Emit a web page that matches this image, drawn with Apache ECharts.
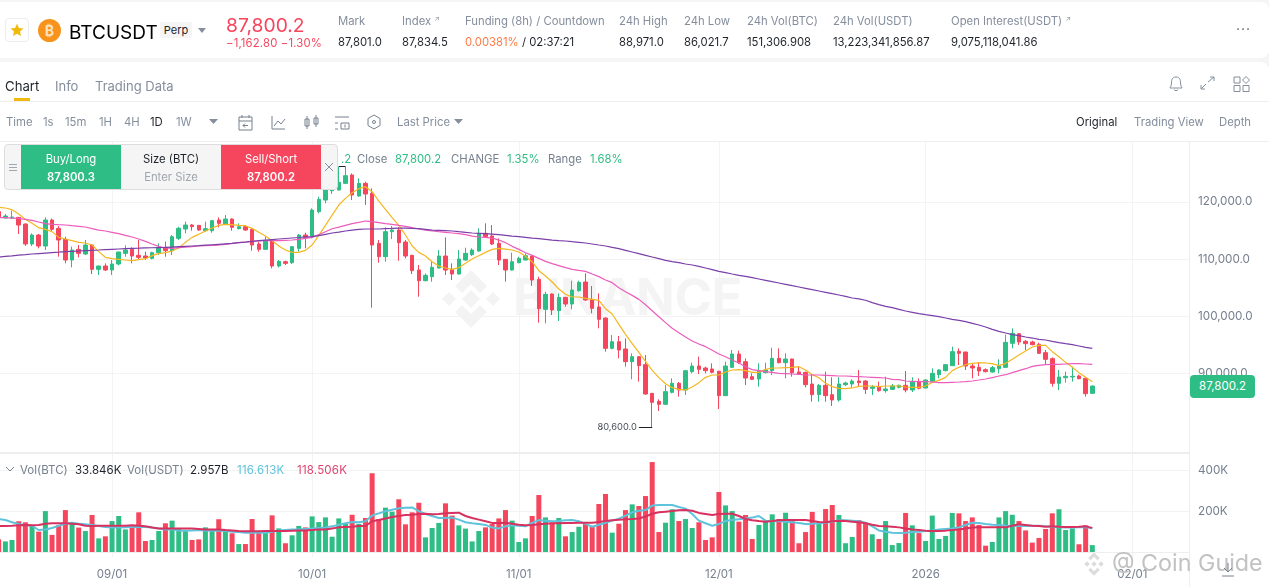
<!DOCTYPE html>
<html><head><meta charset="utf-8">
<script src="https://cdn.jsdelivr.net/npm/echarts@6/dist/echarts.min.js"></script>
<style>
html,body{margin:0;padding:0;width:1269px;height:587px;overflow:hidden;background:#f5f5f5;font-family:Inter,"Noto Sans",sans-serif;color:#1e2329}
.abs,.t{position:absolute;white-space:nowrap}
.t{line-height:14px;font-size:11.3px}
.g{color:#848e9c}.k{color:#1e2329}.gr{color:#2ebd85}.r{color:#f6465d}
.ar{font-size:7px;vertical-align:4px;line-height:0}
#c{position:absolute;left:-5px;top:0;width:1274px;height:587px}
</style></head><body>
<div class="abs" style="left:0;top:2px;width:1269px;height:56px;background:#fff;border-radius:0 8px 8px 0"></div>
<div class="abs" style="left:0;top:62px;width:1269px;height:525px;background:#fff;border-radius:0 8px 0 0"></div>
<div class="abs" style="left:0;top:101px;width:1269px;height:1px;background:#eee"></div>
<div class="abs" style="left:0;top:141px;width:1269px;height:1px;background:#eee"></div>
<!-- watermark -->
<svg class="abs" style="left:440px;top:268px" width="62" height="62" viewBox="0 0 62 62"><g fill="#f3f3f3"><path d="M31 2 47 18 40 25 31 16 22 25 15 18Z"/><path d="M31 60 47 44 40 37 31 46 22 37 15 44Z"/><path d="M2 31 9 24 16 31 9 38Z"/><path d="M60 31 53 24 46 31 53 38Z"/><path d="M31 22 40 31 31 40 22 31Z"/></g></svg>
<div class="abs" style="left:513px;top:267px;font:700 51px/60px Inter,sans-serif;color:#f4f4f4;letter-spacing:-.5px">BINANCE</div>
<div id="c"></div>
<div class="abs" style="left:1189px;top:142px;width:1px;height:445px;background:#eee"></div>
<!-- header -->
<div class="abs" style="left:5px;top:18px;width:24px;height:24px;border:1px solid #eaecef;border-radius:4px;box-sizing:border-box"></div>
<svg class="abs" style="left:10px;top:23px" width="14" height="14" viewBox="0 0 14 14"><path d="M7 .8 8.9 5 13.5 5.500 10 8.500 11 13 7 10.700 3 13 4 8.500 .5 5.500 5.100 5Z" fill="#f0b90b"/></svg>
<svg class="abs" style="left:38px;top:19px" width="23" height="23" viewBox="0 0 23 23"><circle cx="11.500" cy="11.500" r="11.500" fill="#f7931a"/><text x="11.500" y="16.500" text-anchor="middle" font-size="14" font-weight="700" fill="#fde3bd" font-family="Inter">₿</text></svg>
<div class="t" style="left:69px;top:21px;font-size:19px;line-height:23px;color:#000">BTCUSDT</div>
<div class="t k" style="left:160px;top:22px;width:32px;height:16px;text-align:center;background:#f5f5f5;border-radius:2px;line-height:16px;font-size:11px">Perp</div>
<svg class="abs" style="left:198px;top:28px" width="8" height="5"><path d="M0 0H8L4 5Z" fill="#848e9c"/></svg>
<div class="t r" style="left:226px;top:13px;font-size:19.3px;line-height:24px">87,800.2</div>
<div class="t r" style="left:226px;top:36px;letter-spacing:.17px">−1,162.80 −1.30%</div>
<div class="t g" style="left:338px;top:14px">Mark</div><div class="t k" style="left:338px;top:35px">87,801.0</div>
<div class="t g" style="left:402px;top:14px">Index <span class="ar">↗</span></div><div class="t k" style="left:402px;top:35px">87,834.5</div>
<div class="t g" style="left:465px;top:14px">Funding (8h) / Countdown</div>
<div class="t k" style="left:465px;top:35px"><span style="color:#ff7a45">0.00381%</span> / 02:37:21</div>
<div class="t g" style="left:619px;top:14px">24h High</div><div class="t k" style="left:619px;top:35px">88,971.0</div>
<div class="t g" style="left:684px;top:14px">24h Low</div><div class="t k" style="left:684px;top:35px">86,021.7</div>
<div class="t g" style="left:747px;top:14px">24h Vol(BTC)</div><div class="t k" style="left:747px;top:35px">151,306.908</div>
<div class="t g" style="left:833px;top:14px">24h Vol(USDT)</div><div class="t k" style="left:833px;top:35px">13,223,341,856.87</div>
<div class="t g" style="left:951px;top:14px">Open Interest(USDT) <span class="ar">↗</span></div><div class="t k" style="left:951px;top:35px">9,075,118,041.86</div>
<div class="t" style="left:1236px;top:22px;font-size:14px;letter-spacing:1px;color:#5e6673">···</div>
<!-- tabs -->
<div class="t k" style="left:5px;top:78px;font-size:13.2px;line-height:16px">Chart</div>
<div class="t g" style="left:55px;top:78px;font-size:13px;line-height:16px">Info</div>
<div class="t g" style="left:95px;top:78px;font-size:13px;line-height:16px">Trading Data</div>
<div class="abs" style="left:14px;top:98px;width:16px;height:3px;background:#f0b90b"></div>
<svg class="abs" style="left:1168px;top:74px" width="90" height="20" fill="none" stroke="#848e9c" stroke-width="1"><path d="M8 3C4 3 3.500 6 3.500 9S2 13 2 14H14C14 13 12.500 12 12.500 9S12 3 8 3ZM6 15.500C7 17 9 17 10 15.500"/><path d="M33 15 38 10M40 8 46 3M42 3H46V7M33 11V15H37"/><path d="M66 3H72V9H66ZM78 2.500 81.500 6 78 9.500 74.500 6ZM66 11.500H72V17.500H66ZM75 11.500H81V17.500H75Z"/></svg>
<!-- toolbar -->
<div class="t g" style="left:6px;top:115px">Time</div><div class="t g" style="left:43px;top:115px">1s</div>
<div class="t g" style="left:65px;top:115px">15m</div><div class="t g" style="left:99px;top:115px">1H</div>
<div class="t g" style="left:124px;top:115px">4H</div><div class="t k" style="left:150px;top:115px">1D</div>
<div class="t g" style="left:176px;top:115px">1W</div>
<svg class="abs" style="left:209px;top:119px" width="9" height="6"><path d="M0 0H9L4.500 5Z" fill="#848e9c"/></svg>
<svg class="abs" style="left:237px;top:113px" width="145" height="20" fill="none" stroke="#76808f" stroke-width="1"><path d="M2 4H15V17H2ZM2 8H15M5 2V5M12 2V5M11 12.500H6L8 10.500M6 12.500 8 14.500"/><path d="M35 3V16H48M37 13 41 8 44 11 48 6"/><path d="M68 6H72V13H68ZM70 3V16M77 5H81V11H77ZM79 2V14"/><path d="M98 4H112M98 10H101M98 16H101M104 10H112V16H104ZM108 11.500V14.500"/><path d="M137 2 143 5.500V12.500L137 16 131 12.500V5.500Z"/><circle cx="137" cy="9" r="1.500"/></svg>
<div class="t g" style="left:397px;top:115px">Last Price</div>
<svg class="abs" style="left:454px;top:119px" width="9" height="6"><path d="M0 0H9L4.500 5Z" fill="#848e9c"/></svg>
<div class="t k" style="left:1076px;top:115px">Original</div>
<div class="t g" style="left:1134px;top:115px">Trading View</div>
<div class="t g" style="left:1219px;top:115px">Depth</div>
<!-- legend -->
<div class="t gr" style="left:341px;top:152px">.2</div>
<div class="t" style="left:357px;top:152px;color:#76808f">Close</div>
<div class="t gr" style="left:395px;top:152px">87,800.2</div>
<div class="t" style="left:451px;top:152px;color:#76808f">CHANGE</div>
<div class="t gr" style="left:507px;top:152px">1.35%</div>
<div class="t" style="left:548px;top:152px;color:#76808f">Range</div>
<div class="t gr" style="left:590px;top:152px">1.68%</div>
<!-- order panel -->
<div class="abs" style="left:4px;top:144px;width:334px;height:46px;background:#f5f5f5;border:1px solid #ddd;border-radius:4px;box-sizing:border-box"></div>
<svg class="abs" style="left:9px;top:163px" width="9" height="10" stroke="#a0a6ad"><path d="M0 1.500H8M0 4.500H8M0 7.500H8"/></svg>
<div class="abs" style="left:21px;top:145px;width:100px;height:44px;background:#2ebd85"></div>
<div class="abs" style="left:221px;top:145px;width:100px;height:44px;background:#f6465d"></div>
<div class="t" style="left:21px;width:100px;text-align:center;top:152px;color:#fff">Buy/Long</div>
<div class="t" style="left:21px;width:100px;text-align:center;top:170px;color:#fff;font-weight:600">87,800.3</div>
<div class="t k" style="left:121px;width:100px;text-align:center;top:152px">Size (BTC)</div>
<div class="t" style="left:121px;width:100px;text-align:center;top:170px;color:#a0a6ad">Enter Size</div>
<div class="t" style="left:221px;width:100px;text-align:center;top:152px;color:#fff">Sell/Short</div>
<div class="t" style="left:221px;width:100px;text-align:center;top:170px;color:#fff;font-weight:600">87,800.2</div>
<svg class="abs" style="left:324px;top:162px" width="10" height="10" stroke="#848e9c"><path d="M1 1 9 9M9 1 1 9"/></svg>
<!-- price tag -->
<div class="abs" style="left:1190px;top:375px;width:65px;height:23px;border-radius:4px;background:#2ebd85;color:#fff;font-size:11.5px;line-height:23px;text-align:center">87,800.2</div>
<!-- vol legend -->
<svg class="abs" style="left:5px;top:466px" width="10" height="7" fill="none" stroke="#76808f"><path d="M1 1 5 5 9 1"/></svg>
<div class="t" style="left:20px;top:463px;color:#76808f;font-size:11.5px">Vol(BTC)</div>
<div class="t k" style="left:75px;top:463px;font-size:11.5px">33.846K</div>
<div class="t" style="left:127px;top:463px;color:#76808f;font-size:11.5px">Vol(USDT)</div>
<div class="t k" style="left:190px;top:463px;font-size:11.5px">2.957B</div>
<div class="t" style="left:237px;top:463px;color:#5fc3dc;font-size:11.5px;letter-spacing:.2px">116.613K</div>
<div class="t" style="left:297px;top:463px;color:#e0436f;font-size:11.5px;letter-spacing:.2px">118.506K</div>
<!-- bottom right overlay -->
<svg class="abs" style="left:1080px;top:550px" width="28" height="28" viewBox="0 0 28 28" fill="#dcdcdc" stroke="#fff" stroke-width=".6"><path d="M14 2 20 8 17.500 10.500 14 7 10.500 10.500 8 8Z"/><path d="M14 26 20 20 17.500 17.500 14 21 10.500 17.500 8 20Z"/><path d="M4 14 7 11 10 14 7 17Z"/><path d="M24 14 21 11 18 14 21 17Z"/><path d="M14 11 17 14 14 17 11 14Z"/></svg>
<div class="t" style="left:1112px;top:549px;font-size:23.3px;line-height:28px;color:#c2c2c2">@ Coin Guide</div>
<svg class="abs" style="left:1221px;top:562px" width="14" height="16" fill="none" stroke="#76808f"><path d="M7 1V9M3 6 7 10 11 6M1 14H13"/></svg>

<script>
const categories = ['08/15','08/16','08/17','08/18','08/19','08/20','08/21','08/22','08/23','08/24','08/25','08/26','08/27','08/28','08/29','08/30','08/31',
'09/01','09/02','09/03','09/04','09/05','09/06','09/07','09/08','09/09','09/10','09/11','09/12','09/13','09/14','09/15','09/16','09/17','09/18','09/19','09/20','09/21','09/22','09/23','09/24','09/25','09/26','09/27','09/28','09/29','09/30',
'10/01','10/02','10/03','10/04','10/05','10/06','10/07','10/08','10/09','10/10','10/11','10/12','10/13','10/14','10/15','10/16','10/17','10/18','10/19','10/20','10/21','10/22','10/23','10/24','10/25','10/26','10/27','10/28','10/29','10/30','10/31',
'11/01','11/02','11/03','11/04','11/05','11/06','11/07','11/08','11/09','11/10','11/11','11/12','11/13','11/14','11/15','11/16','11/17','11/18','11/19','11/20','11/21','11/22','11/23','11/24','11/25','11/26','11/27','11/28','11/29','11/30',
'12/01','12/02','12/03','12/04','12/05','12/06','12/07','12/08','12/09','12/10','12/11','12/12','12/13','12/14','12/15','12/16','12/17','12/18','12/19','12/20','12/21','12/22','12/23','12/24','12/25','12/26','12/27','12/28','12/29','12/30','12/31',
'01/01','01/02','01/03','01/04','01/05','01/06','01/07','01/08','01/09','01/10','01/11','01/12','01/13','01/14','01/15','01/16','01/17','01/18','01/19','01/20','01/21','01/22','01/23','01/24','01/25','01/26','01/27','01/28','01/29','01/30','01/31',
'02/01','02/02','02/03','02/04','02/05','02/06','02/07','02/08','02/09'];
const xTickLabels = {'09/01':'09/01','10/01':'10/01','11/01':'11/01','12/01':'12/01','01/01':'2026','02/01':'02/01'};
const priceTicks = [90000,100000,110000,120000];
const volumeTicks = [200,400];
// [open, close, low, high]
const ohlc = [
[118300,117400,116800,119300],[117182,117531,117124,117881],[117182,117357,117124,118464],[117298,115958,114385,117357],[116133,112637,112300,116250],
[112637,114210,112287,114500],[114210,112287,111880,114400],[112287,116832,111588,117298],[116832,115200,114793,117100],[115375,113336,110422,115784],
[113452,109840,109257,113918],[109840,111588,108558,112170],[111705,111005,110306,112462],[110888,112462,110714,113336],[112462,108208,107392,112600],
[108208,108791,107218,108850],[108791,108092,107917,109257],[108092,109140,107218,109840],[109140,111238,108907,111300],[111005,111588,110422,112404],
[111705,110539,109257,112054],[110655,110306,109957,113336],[110539,110190,109840,111297],[110131,111122,109957,111297],[111122,112054,110714,112753],
[112054,111471,110422,113044],[111471,113918,110714,114210],[113627,115375,113336,115666],[115259,115958,114500,116541],[115958,115666,114967,116133],
[115900,115083,114967,115958],[114967,115317,114793,116541],[114967,116715,114618,116832],[116832,116250,115550,117298],[116133,117007,115958,117706],
[117007,115550,114967,117124],[115317,115666,115200,116250],[115666,115083,114967,115958],[115200,112462,111471,115375],[112637,111705,111297,113044],
[111705,113219,111650,113918],[113219,108791,108383,113452],[108791,109606,108558,109840],[109548,109257,108966,109723],[109373,112170,109140,112287],
[111880,114210,111297,114385],[114210,113802,111880,114618],[114035,118580,113627,118871],[118288,120444,117997,120910],[120328,122076,119745,122658],
[121950,122350,121400,122900],[122076,123416,122000,126155],[123241,124581,123100,126200],[124698,121202,120328,124989],[121027,123241,120910,124115],
[123241,121376,119453,123532],[121493,112461,101506,122367],[112752,110422,109373,113335],[110422,114792,109548,115549],[114792,115083,113510,115782],
[115083,112869,109722,115549],[112985,110538,110130,113335],[110655,107974,107392,110770],[108091,106226,103429,108965],[106226,107158,106110,107508],
[106926,108557,106051,109548],[108440,110538,108382,111587],[110538,108091,107217,113801],[108208,107392,106343,109256],[107392,110014,107300,111587],
[109839,111004,109722,111995],[110772,111587,110538,111878],[111412,114500,111296,115374],[114500,113918,113801,116249],[114034,112636,112461,115957],
[112753,109839,108965,113626],[109955,108091,106051,110000],[108091,109548,108000,111121],[109373,110130,109256,110422],[109839,110596,109800,111004],
[110538,106343,105294,110655],[106459,101332,98884,106925],[101215,103836,98768,104303],[103895,101098,100224,104000],[100982,103313,99175,104012],
[103313,102147,101680,103400],[102147,104595,101215,106226],[104479,105935,104303,106226],[105994,102848,102700,107509],[102964,101391,100517,105295],
[101624,99468,97895,104013],[99701,94398,93816,99800],[94398,95564,94224,96729],[95564,94107,92650,96554],[94282,92068,91194,96147],
[92068,92942,88979,93524],[92942,91368,88571,93058],[91543,86416,86241,93233],[86532,84958,80600,86600],[85133,84609,83444,85483],
[84609,86823,84492,87989],[86707,88280,86532,89154],[88280,87115,85949,88513],[87115,90494,86241,90550],[90320,91310,90028,91893],
[91310,90727,89912,92941],[90960,90494,90028,91194],[90786,90204,90028,91777],[90378,86124,83793,90494],[86124,91310,86066,92068],
[91077,93408,91000,94107],[93408,91951,91660,93991],[92068,89212,87989,92650],[89446,88980,88863,90028],[89038,90494,87697,91776],
[90145,90611,90028,91893],[90494,92650,89737,94515],[92650,91893,91776,94398],[91893,92534,89154,93524],[92534,90145,89446,92600],
[90262,89912,89737,91194],[90204,88047,87581,90320],[88164,86299,85075,89912],[86299,87931,85075,88164],[87931,86124,85075,90320],
[86299,85367,84318,89329],[85367,88164,85075,89329],[88047,88338,87814,88571],[88164,88688,87522,88979],[88688,88397,87814,90611],
[88688,87232,86416,88863],[87406,87639,86241,87989],[87639,87000,86824,88572],[87000,87290,86649,89446],[87232,87815,87115,88164],
[87582,87931,87407,88048],[87931,87115,86707,90436],[87115,88513,86766,89329],[88513,87407,87232,89155],[87465,88863,87407,88980],
[88630,90029,88572,90903],[89795,90612,89155,90728],[90495,91544,90378,91660],[91369,93816,91311,94690],[93874,93525,91485,94399],
[93758,91311,90611,93800],[91311,90961,89155,91777],[91078,90437,89563,92010],[90670,90320,90204,90903],[90262,91019,90145,91311],
[90845,91311,90029,92476],[91078,95448,90961,96788],[95273,97021,94399,97895],[96963,95506,94982,97079],[95623,95215,94107,95856],
[95506,95040,94923,95739],[95098,93525,93408,95389],[93642,92476,91660,94107],[92593,88281,87698,92826],[88281,89388,87115,90611],
[89271,89504,88397,90320],[89388,89504,88572,91194],[89563,89096,88980,89795],[89155,86474,85950,89329],[86532,87800.2,86416,87931]];
const ma7 = [119046,118930,118640,117880,116950,116250,115490,115200,114800,113800,113510,113220,112930,112810,112460,111300,110310,110070,109960,109840,
109720,109900,110070,110600,110950,111120,111410,111940,112930,113800,114330,114910,115430,115900,116070,116020,115900,115840,115370,114680,
114030,113220,112290,111590,111180,111180,111530,112460,114150,115900,117700,119450,120620,121610,122310,122660,121780,120150,118700,117240,
115900,114210,112290,111180,110540,109550,108790,108440,108210,108500,109260,110010,110600,111180,111700,111880,111760,111590,111240,110480,
109550,107970,107040,105990,104770,103840,103370,103370,103140,102960,102790,101330,100400,98590,96850,95210,93700,92130,90550,89270,
88220,87520,87230,87110,87640,88400,89330,89740,89740,90260,90610,90670,90490,90200,90200,90730,90960,90960,91020,91080,
91190,90610,89800,89270,88280,87700,87410,87350,87470,87760,87810,87810,87700,87810,87810,87815,87640,87580,87580,87810,
88450,88800,89330,90500,91080,91540,91780,91840,91840,91720,91370,91780,92480,93230,93930,94630,94920,94920,93820,92940,
91950,91080,90150,89330,88570];
const ma25 = [117240,117240,117180,117120,116950,116770,116480,116190,116070,116010,115960,115840,115730,115610,115320,115080,114910,114680,114440,114150,
113860,113510,113100,112640,112230,111940,111880,112000,112110,112170,112290,112350,112400,112460,112580,112750,112870,112990,113100,113160,
113220,113220,113220,113280,113340,113450,113630,113800,114270,114790,115310,115600,115900,116190,116420,116660,116540,116370,116190,116080,
115900,115730,115490,115260,115080,114910,114790,114680,114560,114440,114270,114030,113860,113800,113680,113330,112870,112230,111700,111120,
110650,110130,109610,109200,108850,108500,108210,108030,107860,107390,106930,106340,105880,105000,104300,103660,102960,102030,100980,99930,
98890,97900,97140,96380,95680,95160,94690,94050,93410,92940,92360,91830,91190,90670,90490,90320,90200,90030,89970,89910,
89850,89740,89740,89740,89680,89620,89560,89560,89500,89450,89390,89330,89270,89210,88980,88920,88690,88630,88570,88570,
88510,88400,88400,88460,88510,88570,88690,88860,89040,89270,89560,89790,90150,90500,90840,91250,91430,91540,91600,91600,
91660,91720,91720,91660,91600];
const ma99 = [110360,110470,110570,110680,110780,110890,110970,111050,111130,111210,111300,111360,111420,111480,111540,111590,111650,111710,111770,111830,
111880,111910,111950,111980,112020,112050,112110,112170,112230,112290,112350,112430,112510,112590,112670,112750,112870,112980,113100,113220,
113330,113420,113510,113600,113690,113780,113880,113920,114090,114330,114560,114730,114910,115080,115200,115260,115260,115260,115320,115370,
115430,115430,115370,115320,115200,115080,115030,114970,114910,114790,114680,114560,114500,114440,114380,114270,114150,114030,113920,113800,
113680,113570,113450,113330,113220,113160,113040,112930,112810,112640,112460,112290,112050,111820,111530,111240,110950,110660,110370,110080,
109780,109550,109370,109140,108970,108730,108440,108150,107860,107630,107390,107160,106980,106750,106520,106290,106050,105820,105590,105350,
105120,104890,104650,104420,104190,103950,103720,103490,103200,103050,102800,102380,102030,101740,101510,101220,100920,100690,100460,100280,
100110,99930,99700,99470,99290,99060,98770,98480,98130,97720,97370,97080,96790,96610,96380,96200,95970,95860,95620,95390,
95210,95040,94810,94570,94400];
const volume = [62,52,59,151,146,128,100,201,84,133,206,144,120,103,182,67,77,152,177,111,
121,195,54,59,103,141,154,115,103,59,62,121,111,161,103,92,39,39,162,100,
108,180,116,43,82,128,121,175,147,170,75,165,138,183,138,167,387,162,218,198,
259,136,195,242,72,118,143,239,179,131,115,52,103,121,138,165,206,154,49,67,
177,280,170,144,167,77,98,124,138,128,236,285,95,139,206,234,226,275,442,98,
144,210,152,162,118,146,59,72,295,229,201,149,182,64,133,152,185,162,193,154,
43,98,197,144,211,231,182,43,74,157,144,87,64,152,34,44,192,131,93,54,
179,64,79,192,190,152,170,133,31,49,170,201,183,152,106,46,69,113,190,210,
108,116,38,131,33.846];
const volMaBlue = [162,157,146,138,133,129,108,111,118,129,139,144,139,136,133,128,123,120,120,121,
123,124,123,120,115,111,110,106,105,106,108,106,105,105,103,100,98,95,95,95,
95,100,106,108,110,111,113,115,118,121,126,134,141,147,146,151,179,190,200,208,
215,218,219,201,187,177,167,167,169,159,146,141,138,133,120,116,126,131,129,126,
143,157,154,151,152,156,157,151,138,124,134,144,154,164,179,195,203,206,228,231,
231,231,221,213,187,154,141,129,138,152,157,161,165,169,177,154,151,151,149,146,
143,138,139,141,144,149,156,156,154,151,144,126,106,100,95,93,95,98,100,103,
106,110,113,116,121,133,144,143,138,134,133,129,128,128,128,129,129,126,124,121,
120,120,121,121,116.613];
const volMaRed = [128,128,129,131,133,131,133,139,141,141,141,139,136,129,128,129,129,129,129,129,
131,129,126,120,115,115,116,115,115,115,113,111,111,111,108,106,103,102,102,102,
103,103,103,103,105,106,106,108,110,111,116,121,123,124,128,128,151,157,165,172,
177,182,183,187,188,185,187,190,192,193,177,167,159,151,143,143,144,139,134,131,
133,136,139,141,141,143,143,144,144,144,147,152,156,159,161,162,165,174,188,195,
198,201,205,206,203,192,187,182,187,188,188,177,162,156,152,149,152,156,157,157,
157,157,152,147,146,151,154,152,149,146,141,134,128,126,124,121,116,111,108,105,
103,103,105,108,111,115,120,121,121,121,121,121,129,136,133,129,128,124,126,124,
123,123,124,126,118.506];

const UP='#2ebd85', DOWN='#f6465d', GRID='#f3f3f3', LABEL='#76808f';
const hasTick = (i,v)=>xTickLabels[v]!==undefined;
const fmtPrice = v=>Number(v).toLocaleString('en-US',{minimumFractionDigits:1,maximumFractionDigits:1});
const chart = echarts.init(document.getElementById('c'),null,{renderer:'canvas',width:1274,height:587});
const xBase = {type:'category',data:categories,boundaryGap:true,
  axisTick:{show:false,alignWithLabel:true,interval:hasTick},
  splitLine:{show:true,alignWithLabel:true,interval:hasTick,lineStyle:{color:GRID,width:1}}};
chart.setOption({
  animation:false,backgroundColor:'transparent',
  grid:[{left:0.37,width:1193.63,top:142,height:311},{left:0.37,width:1193.63,top:453,height:104}],
  xAxis:[
    Object.assign({},xBase,{gridIndex:0,axisLabel:{show:false},axisLine:{show:true,lineStyle:{color:'#eeeeee',width:2}}}),
    Object.assign({},xBase,{gridIndex:1,axisLine:{show:true,lineStyle:{color:'#eeeeee'}},
      axisLabel:{show:true,interval:hasTick,formatter:v=>xTickLabels[v]||'',color:LABEL,fontSize:11.5,fontFamily:'Inter',margin:12}})
  ],
  yAxis:[
    {type:'value',gridIndex:0,position:'right',min:76101,max:130472,scale:true,
      axisLine:{show:false},axisTick:{show:false,customValues:priceTicks},
      axisLabel:{customValues:priceTicks,formatter:fmtPrice,color:LABEL,fontSize:11.7,fontFamily:'Inter',margin:9,padding:[2,0,0,0],showMinLabel:true,showMaxLabel:true},
      splitLine:{show:true,lineStyle:{color:GRID}}},
    {type:'value',gridIndex:1,position:'right',min:-24.6,max:486.5,
      axisLine:{show:false},axisTick:{show:false,customValues:volumeTicks},
      axisLabel:{customValues:volumeTicks,formatter:v=>v+'K',color:LABEL,fontSize:11.7,fontFamily:'Inter',margin:9},
      splitLine:{show:true,lineStyle:{color:GRID}}}
  ],
  series:[
    {type:'candlestick',name:'BTCUSDT',xAxisIndex:0,yAxisIndex:0,data:ohlc,barWidth:4,silent:true,
      itemStyle:{color:UP,color0:DOWN,borderColor:UP,borderColor0:DOWN,borderWidth:1},
      markLine:{silent:true,symbol:'none',animation:false,lineStyle:{color:'#1e2329',width:1,type:'solid'},
        data:[
          [{coord:['11/19',80600],label:{show:true,position:'start',formatter:'80,600.0',color:'#474d57',fontSize:9.3,fontFamily:'Inter',distance:2,verticalAlign:'middle',padding:[3,0,0,0]}},{coord:['11/21',80600]}],
          [{coord:['10/05',126200],label:{show:false}},{coord:['10/06',126200]}]
        ]}},
    {type:'line',name:'MA7',xAxisIndex:0,yAxisIndex:0,data:ma7,showSymbol:false,smooth:false,silent:true,lineStyle:{color:'#f4b71f',width:1.2}},
    {type:'line',name:'MA25',xAxisIndex:0,yAxisIndex:0,data:ma25,showSymbol:false,smooth:false,silent:true,lineStyle:{color:'#ec5cbb',width:1.2}},
    {type:'line',name:'MA99',xAxisIndex:0,yAxisIndex:0,data:ma99,showSymbol:false,smooth:false,silent:true,lineStyle:{color:'#7b3fa8',width:1.2}},
    {type:'bar',name:'Vol',xAxisIndex:1,yAxisIndex:1,barWidth:5,silent:true,
      data:volume.map((v,i)=>({value:v,itemStyle:{color:ohlc[i][1]>=ohlc[i][0]?UP:DOWN}}))},
    {type:'line',name:'VolMA1',xAxisIndex:1,yAxisIndex:1,data:volMaBlue,showSymbol:false,silent:true,lineStyle:{color:'#5fc3dc',width:2}},
    {type:'line',name:'VolMA2',xAxisIndex:1,yAxisIndex:1,data:volMaRed,showSymbol:false,silent:true,lineStyle:{color:'#d8305f',width:2}}
  ]
});
</script>
</body></html>
